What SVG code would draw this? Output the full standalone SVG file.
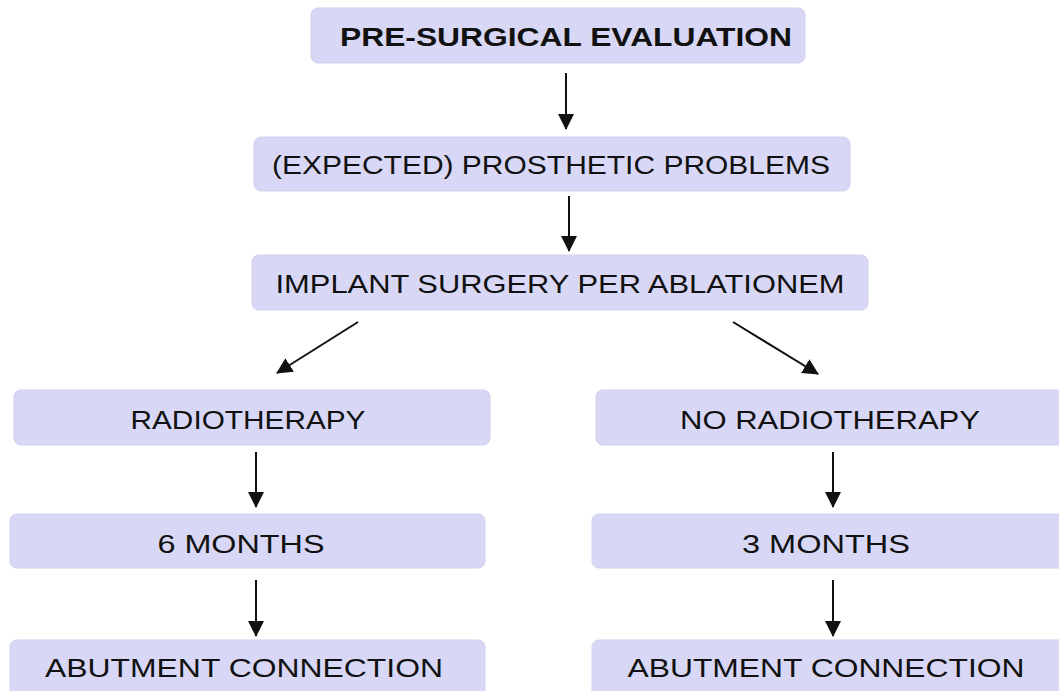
<svg xmlns="http://www.w3.org/2000/svg" width="1059" height="691" viewBox="0 0 1059 691">
<style>
.box{fill:#d8d8f6;stroke:#cfcfee;stroke-width:1}
.t{font-family:"Liberation Sans",Arial,sans-serif;font-size:25px;fill:#111;text-anchor:middle}
.b{font-weight:bold}
.c{stroke:#111;stroke-width:2;fill:none;marker-end:url(#ah)}
</style>
<defs>
<marker id="ah" markerWidth="16" markerHeight="16" refX="15" refY="8" orient="auto" markerUnits="userSpaceOnUse">
<path d="M0,0 L16,8 L0,16 Z" fill="#111"/>
</marker>
</defs>
<rect width="1059" height="691" fill="#fff"/>
<g id="n1"><rect class="box" x="311" y="8" width="494" height="55" rx="7"/><text class="t b" x="566" y="46" textLength="452" lengthAdjust="spacingAndGlyphs">PRE-SURGICAL EVALUATION</text></g>
<g id="n2"><rect class="box" x="254" y="137" width="596" height="54" rx="7"/><text class="t" x="551" y="174" textLength="558" lengthAdjust="spacingAndGlyphs">(EXPECTED) PROSTHETIC PROBLEMS</text></g>
<g id="n3"><rect class="box" x="252" y="255" width="616" height="55" rx="7"/><text class="t" x="560" y="293" textLength="569" lengthAdjust="spacingAndGlyphs">IMPLANT SURGERY PER ABLATIONEM</text></g>
<g id="n4"><rect class="box" x="14" y="390" width="476" height="55" rx="7"/><text class="t" x="248" y="429" textLength="235" lengthAdjust="spacingAndGlyphs">RADIOTHERAPY</text></g>
<g id="n5"><rect class="box" x="596" y="390" width="470" height="55" rx="7"/><text class="t" x="830" y="429" textLength="300" lengthAdjust="spacingAndGlyphs">NO RADIOTHERAPY</text></g>
<g id="n6"><rect class="box" x="10" y="514" width="475" height="54" rx="7"/><text class="t" x="241" y="553" textLength="167" lengthAdjust="spacingAndGlyphs">6 MONTHS</text></g>
<g id="n7"><rect class="box" x="592" y="514" width="474" height="54" rx="7"/><text class="t" x="826" y="553" textLength="168" lengthAdjust="spacingAndGlyphs">3 MONTHS</text></g>
<g id="n8"><rect class="box" x="10" y="640" width="475" height="60" rx="7"/><text class="t" x="244" y="677" textLength="398" lengthAdjust="spacingAndGlyphs">ABUTMENT CONNECTION</text></g>
<g id="n9"><rect class="box" x="592" y="640" width="474" height="60" rx="7"/><text class="t" x="826" y="677" textLength="397" lengthAdjust="spacingAndGlyphs">ABUTMENT CONNECTION</text></g>
<g id="connectors">
<line class="c" x1="566" y1="73" x2="566" y2="129"/>
<line class="c" x1="569" y1="196" x2="569" y2="251"/>
<line class="c" x1="358" y1="322" x2="277" y2="373"/>
<line class="c" x1="733" y1="322" x2="818" y2="374"/>
<line class="c" x1="256" y1="452" x2="256" y2="507"/>
<line class="c" x1="833" y1="452" x2="833" y2="507"/>
<line class="c" x1="256" y1="580" x2="256" y2="636"/>
<line class="c" x1="833" y1="580" x2="833" y2="636"/>
</g>
</svg>
